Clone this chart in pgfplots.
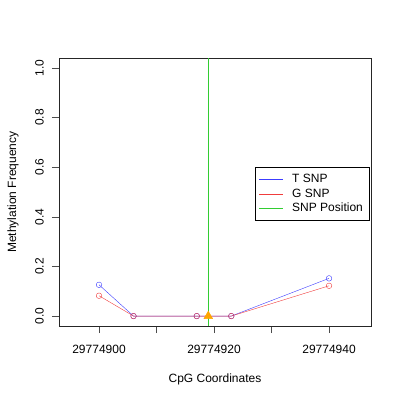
\documentclass[border=0pt]{standalone}
\usepackage{fontspec}
\setmainfont{Liberation Sans}
\usepackage{pgfplots}
\pgfplotsset{compat=1.18}
\definecolor{tblue}{RGB}{60,60,255}
\definecolor{gred}{RGB}{240,60,60}
\definecolor{snpgreen}{RGB}{50,205,50}
\definecolor{snporange}{RGB}{255,165,0}
\begin{document}
\fontsize{12pt}{14pt}\selectfont
\begin{tikzpicture}
% x positions are offsets from 29774900
\begin{axis}[
    scale only axis,
    width=312pt, height=268pt,
    xmin=-6.96, xmax=47.3,
    ymin=-0.04, ymax=1.04,
    xtick={0,10,20,30,40},
    xticklabels={29774900,,29774920,,29774940},
    ytick={0,0.2,0.4,0.6,0.8,1.0},
    yticklabel style={rotate=90, anchor=south, /pgf/number format/fixed, /pgf/number format/fixed zerofill, /pgf/number format/precision=1},
    /pgf/number format/assume math mode=true,
    xticklabel shift=8pt,
    yticklabel shift=4pt,
    tick align=outside,
    major tick length=7pt,
    xtick pos=bottom, ytick pos=left,
    axis line style={black!85},
    tick style={black!70},
    xlabel={CpG Coordinates},
    ylabel={Methylation Frequency},
    xlabel style={at={(axis description cs:0.5,-0.198)}, anchor=center},
    ylabel style={at={(axis description cs:-0.147,0.5)}, anchor=center},
    legend style={at={(rel axis cs:0.994,0.493)}, anchor=east, draw=black, fill=white,
        font=\fontsize{12pt}{14pt}\selectfont, row sep=0pt, inner xsep=4pt, inner ysep=5pt},
    legend cell align=left,
]
\addplot[color=tblue, mark=o, mark size=2.8pt, mark options={solid},
    legend image code/.code={\draw[color=tblue] (0pt,0pt) -- (24pt,0pt); \path (31pt,0pt);}]
    coordinates {(0,0.126)(6,0)(17,0)(23,0)(40,0.152)};
\addlegendentry{T SNP}
\addplot[color=gred, mark=o, mark size=2.8pt, mark options={solid},
    legend image code/.code={\draw[color=gred] (0pt,0pt) -- (24pt,0pt); \path (31pt,0pt);}]
    coordinates {(0,0.082)(6,0)(17,0)(23,0)(40,0.122)};
\addlegendentry{G SNP}
\addplot[color=snpgreen,
    legend image code/.code={\draw[color=snpgreen] (0pt,0pt) -- (24pt,0pt); \path (31pt,0pt);}]
    coordinates {(19,-0.04)(19,1.04)};
\addlegendentry{SNP Position}
\addplot[only marks, mark=triangle*, mark size=5pt, color=snporange, forget plot]
    coordinates {(19,0)};
\end{axis}
\path (current axis.south west) ++(-59pt,-74pt) rectangle ++(400pt,400pt);
\end{tikzpicture}
\end{document}
